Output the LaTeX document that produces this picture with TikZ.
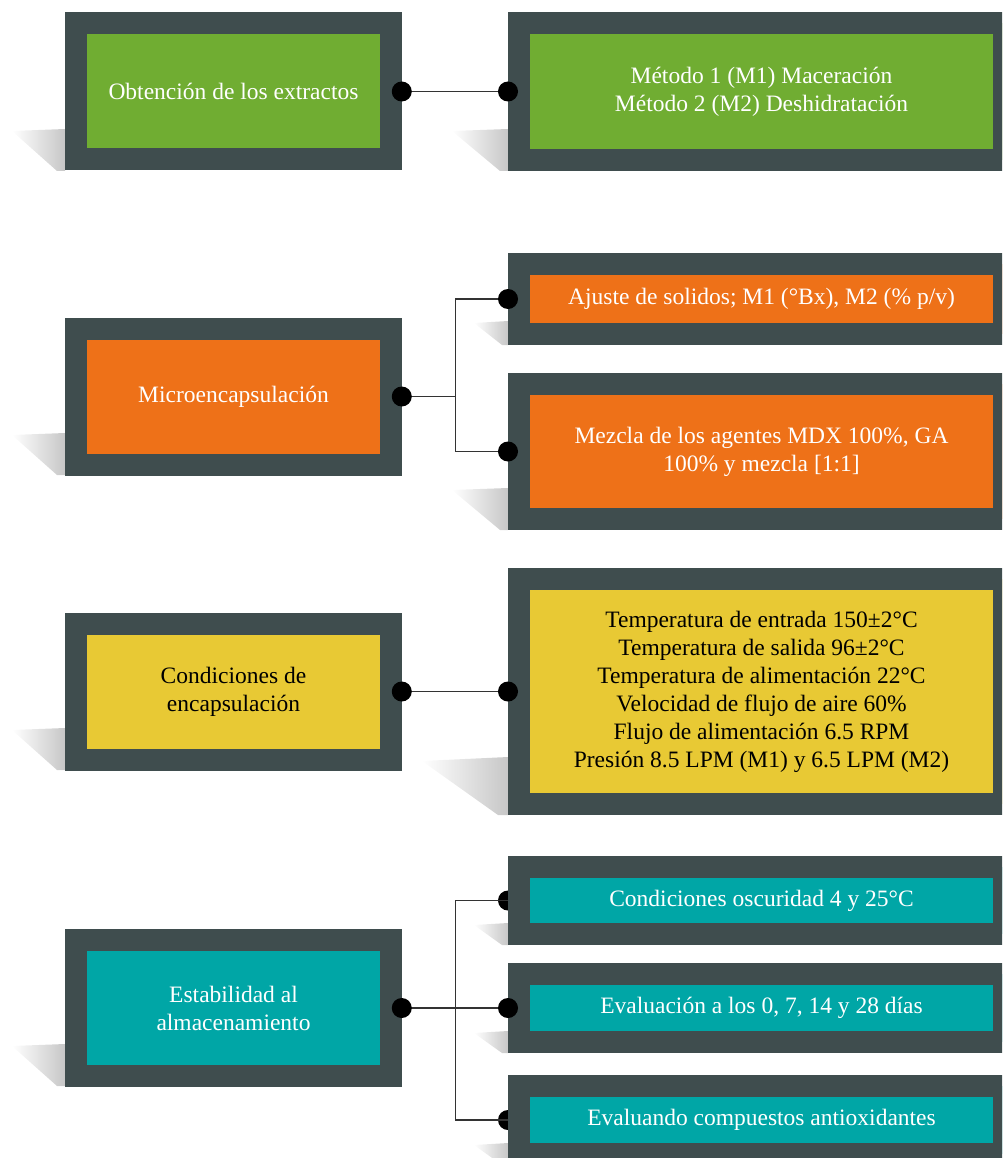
\documentclass[tikz,border=0pt]{standalone}
\usepackage{fontspec}
\setmainfont{Liberation Serif}
\definecolor{framegray}{HTML}{3F4D4E}
\definecolor{leafgreen}{HTML}{70AD32}
\definecolor{carrot}{HTML}{EE7118}
\definecolor{mustard}{HTML}{E8C934}
\definecolor{tealbox}{HTML}{00A6A6}
\usetikzlibrary{backgrounds}

\begin{document}
\begin{tikzpicture}[x=1pt, y=-1pt,
  stage/.style={draw=framegray, line width=22pt, inner sep=0pt, align=center, text=white,
    font=\fontsize{23.5}{28}\selectfont},
  leftbox/.style={stage, minimum width=314.5pt, minimum height=136pt},
  rightbox/.style={stage, minimum width=485pt},
  dot/.style={circle, fill=black, inner sep=0pt, minimum size=20pt},
  link/.style={line width=1.2pt, black!80},
  shadowfill/.style={left color=white, right color=black!22}]
  \useasboundingbox (0,0) rectangle (1002,1158);
  \clip (0,0) rectangle (1002,1158);

  % Shadows
  \shade[shadowfill] (12,131) -- (65,129) -- (65,171) -- (57,171) -- cycle;
  \shade[shadowfill] (12,435) -- (65,433) -- (65,475) -- (57,475) -- cycle;
  \shade[shadowfill] (12,730) -- (65,728) -- (65,770) -- (57,770) -- cycle;
  \shade[shadowfill] (12,1046) -- (65,1044) -- (65,1086) -- (57,1086) -- cycle;
  \shade[shadowfill] (452,131) -- (508,129) -- (508,171) -- (500,171) -- cycle;
  \shade[shadowfill] (474,323) -- (508,321) -- (508,345) -- (502,345) -- cycle;
  \shade[shadowfill] (452,490) -- (508,488) -- (508,530) -- (500,530) -- cycle;
  \shade[shadowfill] (422,761) -- (508,757) -- (508,815) -- (498,815) -- cycle;
  \shade[shadowfill] (474,925) -- (508,923) -- (508,945) -- (502,945) -- cycle;
  \shade[shadowfill] (474,1033) -- (508,1031) -- (508,1053) -- (502,1053) -- cycle;
  \shade[shadowfill] (474,1145) -- (508,1143) -- (508,1165) -- (502,1165) -- cycle;

  % Left column
  \node[leftbox, fill=leafgreen] (obt) at (233.5,91.5) {Obtención de los extractos};
  \node[leftbox, fill=carrot] (micro) at (233.5,396.5) {Microencapsulación};
  \node[leftbox, fill=mustard, text=black] (cond) at (233.5,691.5) {Condiciones de\\encapsulación};
  \node[leftbox, fill=tealbox] (estab) at (233.5,1008) {Estabilidad al\\almacenamiento};

  % Right column
  \node[rightbox, fill=leafgreen, minimum height=137pt] (met) at (761.5,91.5)
    {Método 1 (M1) Maceración\\Método 2 (M2) Deshidratación};
  \node[rightbox, fill=carrot, minimum height=70pt] (ajuste) at (761.5,299)
    {Ajuste de solidos; M1 (°Bx), M2 (\% p/v)};
  \node[rightbox, fill=carrot, minimum height=135pt] (mezcla) at (761.5,451.5)
    {Mezcla de los agentes MDX 100\%, GA\\100\% y mezcla [1:1]};
  \node[rightbox, fill=mustard, text=black, minimum height=225pt] (temp) at (761.5,691.5)
    {Temperatura de entrada 150±2°C\\Temperatura de salida 96±2°C\\Temperatura de alimentación 22°C\\
     Velocidad de flujo de aire 60\%\\Flujo de alimentación 6.5 RPM\\Presión 8.5 LPM (M1) y 6.5 LPM (M2)};
  \node[rightbox, fill=tealbox, minimum height=67pt] (oscur) at (761.5,900.5)
    {Condiciones oscuridad 4 y 25°C};
  \node[rightbox, fill=tealbox, minimum height=68pt] (evalua) at (761.5,1008)
    {Evaluación a los 0, 7, 14 y 28 días};
  \node[rightbox, fill=tealbox, minimum height=68pt] (antiox) at (761.5,1120)
    {Evaluando compuestos antioxidantes};

  % Connectors
  \draw[link] (obt.east) -- (met.west);
  \draw[link] (micro.east) -- ++(54,0) coordinate (j2) |- (ajuste.west);
  \draw[link] (j2) |- (mezcla.west);
  \draw[link] (cond.east) -- (temp.west);
  \draw[link] (estab.east) -- (evalua.west);
  \draw[link] (estab.east) ++(54,0) coordinate (j4) |- (oscur.west);
  \draw[link] (j4) |- (antiox.west);

  % Dots
  \node[dot] (d1a) at (obt.east) {};
  \node[dot] (d1b) at (met.west) {};
  \node[dot] (d2a) at (micro.east) {};
  \node[dot] (d2b) at (ajuste.west) {};
  \node[dot] (d2c) at (mezcla.west) {};
  \node[dot] (d3a) at (cond.east) {};
  \node[dot] (d3b) at (temp.west) {};
  \node[dot] (d4a) at (estab.east) {};
  \node[dot] (d4c) at (evalua.west) {};
  \begin{scope}[on background layer]
    \node[dot] (d4b) at (oscur.west) {};
    \node[dot] (d4d) at (antiox.west) {};
  \end{scope}
\end{tikzpicture}
\end{document}
